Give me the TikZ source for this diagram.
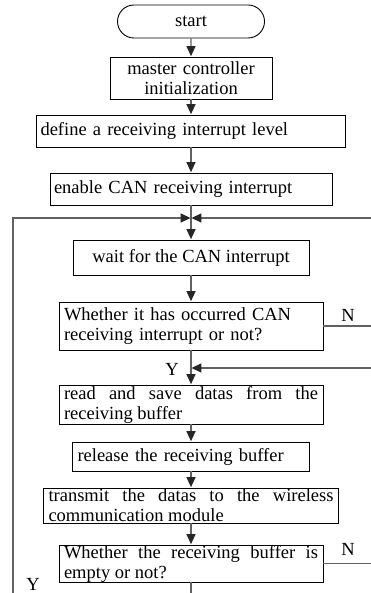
\documentclass[tikz,border=0pt]{standalone}
\usepackage{fontspec}
\setmainfont{Liberation Serif}
\usetikzlibrary{arrows.meta,shapes.misc}
\begin{document}
\hyphenpenalty=10000 \exhyphenpenalty=10000
\begin{tikzpicture}[x=1pt,y=-1pt,
  every node/.style={font=\fontsize{18.5}{20}\selectfont, text=black},
  box/.style={draw=black, line width=0.9pt, inner xsep=5pt, inner ysep=0pt},
  conn/.style={draw=black!62, line width=1.3pt},
  arr/.style={conn, -{Triangle[length=10pt,width=9pt,color=black!85]}, shorten >=0.4pt},
  lbl/.style={inner sep=0pt}]
\useasboundingbox (0,0) rectangle (371,593);
% nodes
\node[box, rounded rectangle, minimum width=157, minimum height=33] (start) at (191,21.5) {start};
\node[box, minimum width=162, minimum height=42, text width=152, align=center] (master) at (191,78) {master controller\\initialization};
\node[box, inner xsep=4pt, minimum width=309, minimum height=32, text width=301, align=left] (define) at (191,131) {define a receiving interrupt level};
\node[box, inner xsep=4pt, minimum width=282, minimum height=32, text width=274, align=left] (enable) at (191,189) {enable CAN receiving interrupt};
\node[box, minimum width=236, minimum height=35] (wait) at (191,257.5) {wait for the CAN interrupt};
\node[box, minimum width=264, minimum height=48, text width=254, align=left] (dec1) at (191,326) {Whether it has occurred CAN\\receiving interrupt or not?};
\node[box, minimum width=264, minimum height=39, text width=254, align=justify] (read) at (191,404.5) {read and save datas from the\linebreak receiving buffer};
\node[box, minimum width=237, minimum height=29, text width=227, align=left] (release) at (191,456.5) {release the receiving buffer};
\node[box, minimum width=295, minimum height=35, text width=285, align=justify] (transmit) at (191,505.5) {transmit the datas to the wireless\linebreak communication module};
\node[box, minimum width=264, minimum height=37, text width=254, align=justify] (dec2) at (191,563.5) {Whether the receiving buffer is\linebreak empty or not?};
% labels
\node[lbl] (n1) at (348,315) {N};
\node[lbl] (y1) at (172,369) {Y};
\node[lbl] (n2) at (348,549) {N};
\node[lbl] (y2) at (33,584) {Y};
% coordinates
\coordinate (j) at (191,218);
\coordinate (lt) at (13,218);
\coordinate (lb) at (13,594);
\coordinate (rt) at (372,218);
\coordinate (r1) at (372,326);
\coordinate (r2) at (372,368);
\coordinate (m1) at (191,368);
\coordinate (r3) at (372,563.5);
\coordinate (d2b) at (191,594);
% connectors
\draw[arr] (start) -- (master);
\draw[arr] (master) -- (define);
\draw[arr] (define) -- (enable);
\draw[arr] (enable) -- (wait);
\draw[arr] (lb) -- (lt) -- (j);
\draw[arr] (rt) -- (j);
\draw[arr] (wait) -- (dec1);
\draw[arr] (dec1) -- (read);
\draw[conn] (dec1) -- (r1);
\draw[arr] (r2) -- (m1);
\draw[arr] (read) -- (release);
\draw[arr] (release) -- (transmit);
\draw[arr] (transmit) -- (dec2);
\draw[conn] (dec2) -- (r3);
\draw[conn] (dec2) -- (d2b);
\end{tikzpicture}
\end{document}
